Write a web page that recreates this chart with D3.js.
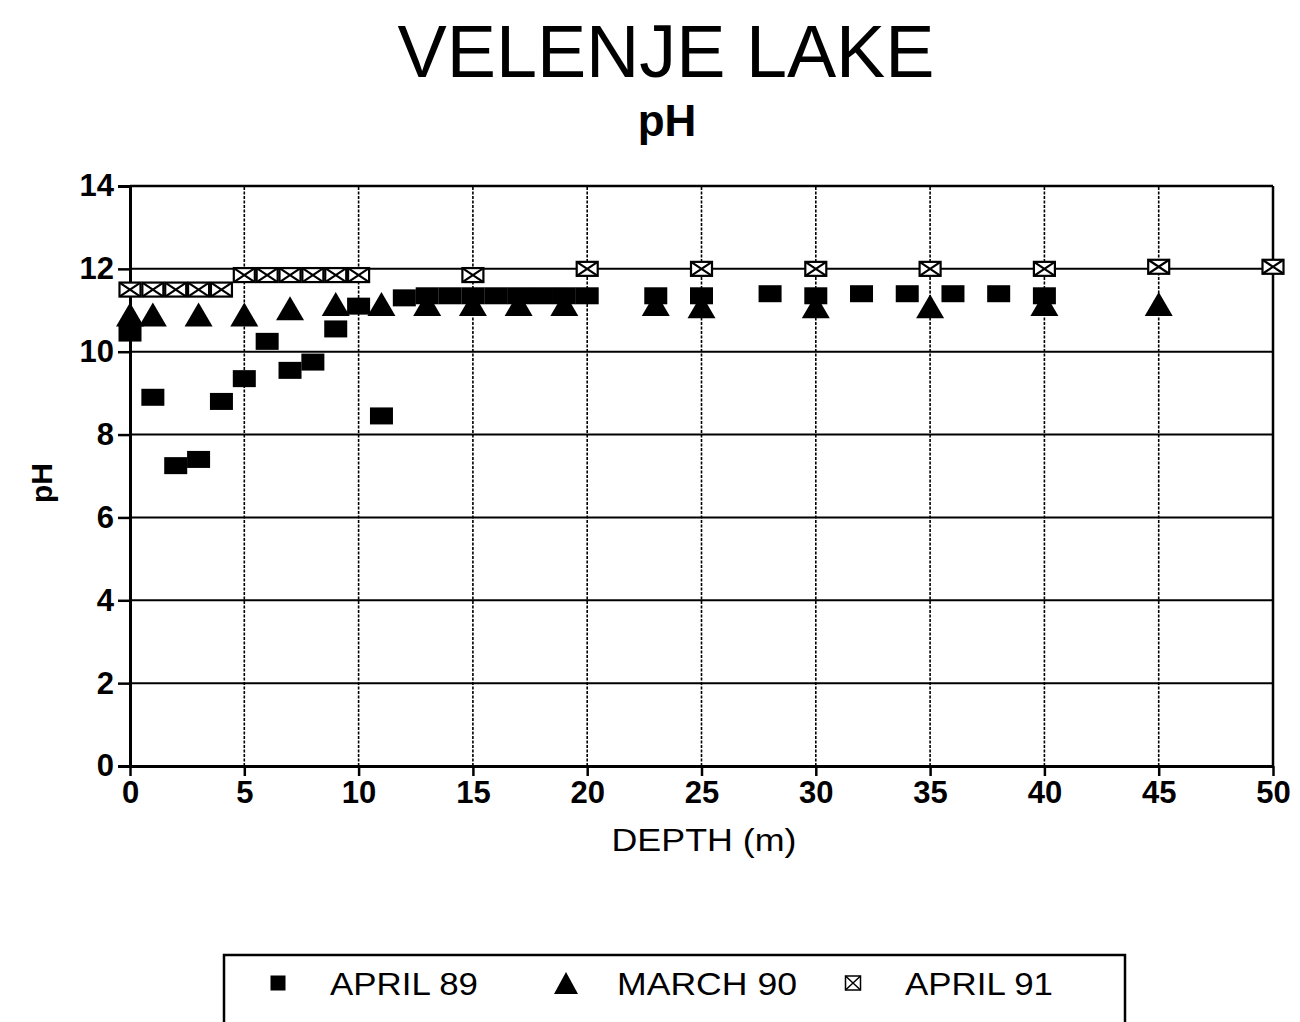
<!DOCTYPE html>
<meta charset="utf-8">
<style>
body {
  margin: 0;
  background: #fff;
  font-family: "Liberation Sans", Arial, Helvetica, sans-serif;
}
text { fill: #000; }
.grid line { stroke: #000; }
</style>
<body>
<script src="https://d3js.org/d3.v7.min.js"></script>
<script>

var width = 1300,
    height = 1022;

// depth (m) and pH per survey
var depth89 = [0, 1, 2, 3, 4, 5, 6, 7, 8, 9, 10, 11, 12, 13, 14, 15, 16, 17, 18, 19, 20, 23, 25, 28, 30, 32, 34, 36, 38, 40];
var ph89 = [10.45, 8.9, 7.25, 7.4, 8.8, 9.35, 10.25, 9.55, 9.75, 10.55, 11.1, 8.45, 11.3, 11.35, 11.35, 11.35, 11.35, 11.35, 11.35, 11.35, 11.35, 11.35, 11.35, 11.4, 11.35, 11.4, 11.4, 11.4, 11.4, 11.35];

var depth90 = [0, 1, 3, 5, 7, 9, 11, 13, 15, 17, 19, 23, 25, 30, 35, 40, 45];
var ph90 = [10.9, 10.9, 10.9, 10.9, 11.05, 11.15, 11.15, 11.15, 11.15, 11.15, 11.15, 11.15, 11.1, 11.1, 11.1, 11.15, 11.15];

var depth91 = [0, 1, 2, 3, 4, 5, 6, 7, 8, 9, 10, 15, 20, 25, 30, 35, 40, 45, 50];
var ph91 = [11.5, 11.5, 11.5, 11.5, 11.5, 11.85, 11.85, 11.85, 11.85, 11.85, 11.85, 11.85, 12.0, 12.0, 12.0, 12.0, 12.0, 12.05, 12.05];

var xTicks = d3.range(0, 51, 5);
var yTicks = d3.range(0, 15, 2);
var seriesNames = ["APRIL 89", "MARCH 90", "APRIL 91"];

var x = d3.scaleLinear().domain([0, 50]).range([130, 1273]);
var y = d3.scaleLinear().domain([0, 14]).range([766, 186]);

var svg = d3.select("body").append("svg")
    .attr("width", width)
    .attr("height", height);

// titles
svg.append("text")
    .attr("x", 666).attr("y", 77)
    .attr("text-anchor", "middle")
    .attr("font-size", 74)
    .attr("textLength", 537)
    .attr("lengthAdjust", "spacingAndGlyphs")
    .text("VELENJE LAKE");

svg.append("text")
    .attr("x", 667).attr("y", 136)
    .attr("text-anchor", "middle")
    .attr("font-size", 44)
    .attr("font-weight", "bold")
    .text("pH");

// grid
var grid = svg.append("g").attr("class", "grid");
grid.selectAll(".h").data(yTicks.filter(function(d) { return d > 0; }))
  .enter().append("line")
    .attr("x1", x(0)).attr("x2", x(50))
    .attr("y1", function(d) { return y(d); })
    .attr("y2", function(d) { return y(d); })
    .attr("stroke-width", function(d) { return d == 14 ? 2.5 : 2; });

grid.selectAll(".v").data(xTicks.filter(function(d) { return d > 0; }))
  .enter().append("line")
    .attr("y1", y(0)).attr("y2", y(14))
    .attr("x1", function(d) { return x(d); })
    .attr("x2", function(d) { return x(d); })
    .attr("stroke-width", function(d) { return d == 50 ? 2.5 : 1.6; })
    .attr("stroke-dasharray", function(d) { return d == 50 ? null : "3,1.5"; });

// axes
var yAxis = svg.append("g")
    .attr("transform", "translate(" + x(0) + ",0)")
    .call(d3.axisLeft(y).tickValues(yTicks).tickSize(12).tickPadding(4).tickFormat(d3.format("d")));
yAxis.select(".domain").attr("stroke-width", 3);
yAxis.selectAll(".tick line").attr("stroke-width", 2.5);
yAxis.selectAll("text")
    .attr("font-size", 31).attr("font-weight", "bold")
    .attr("font-family", "Liberation Sans, Arial, sans-serif");

var xAxis = svg.append("g")
    .attr("transform", "translate(0," + y(0) + ")")
    .call(d3.axisBottom(x).tickValues(xTicks).tickSize(10).tickPadding(5).tickSizeOuter(0));
xAxis.select(".domain").attr("stroke-width", 3);
xAxis.selectAll(".tick line").attr("stroke-width", 2.5);
xAxis.selectAll("text")
    .attr("font-size", 31).attr("font-weight", "bold")
    .attr("font-family", "Liberation Sans, Arial, sans-serif");

svg.append("text")
    .attr("x", 704).attr("y", 851)
    .attr("text-anchor", "middle")
    .attr("font-size", 32)
    .attr("textLength", 185)
    .attr("lengthAdjust", "spacingAndGlyphs")
    .text("DEPTH (m)");

svg.append("text")
    .attr("transform", "translate(52,483) rotate(-90)")
    .attr("text-anchor", "middle")
    .attr("font-size", 30)
    .attr("font-weight", "bold")
    .text("pH");

// markers
function square(g, w, h) {
  g.append("rect").attr("x", -w / 2).attr("y", -h / 2).attr("width", w).attr("height", h).attr("fill", "#000");
}
function triangle(g, w, h) {
  g.append("path").attr("d", "M0," + (-h / 2) + "L" + (w / 2) + "," + (h / 2) + "L" + (-w / 2) + "," + (h / 2) + "Z").attr("fill", "#000");
}
function crossBox(g, w, h, sw) {
  g.append("rect").attr("x", -w / 2).attr("y", -h / 2).attr("width", w).attr("height", h)
      .attr("fill", "#fff").attr("stroke", "#000").attr("stroke-width", sw);
  g.append("path").attr("d", "M" + (-w / 2) + "," + (-h / 2) + "L" + (w / 2) + "," + (h / 2) +
      "M" + (w / 2) + "," + (-h / 2) + "L" + (-w / 2) + "," + (h / 2))
      .attr("stroke", "#000").attr("stroke-width", sw);
}

svg.append("g").selectAll("g").data(d3.zip(depth91, ph91))
  .enter().append("g")
    .attr("transform", function(d) { return "translate(" + x(d[0]) + "," + y(d[1]) + ")"; })
    .each(function() { crossBox(d3.select(this), 21, 14, 2.2); });

svg.append("g").selectAll("g").data(d3.zip(depth89, ph89))
  .enter().append("g")
    .attr("transform", function(d) { return "translate(" + x(d[0]) + "," + y(d[1]) + ")"; })
    .each(function() { square(d3.select(this), 23, 17); });

svg.append("g").selectAll("g").data(d3.zip(depth90, ph90))
  .enter().append("g")
    .attr("transform", function(d) { return "translate(" + x(d[0]) + "," + y(d[1]) + ")"; })
    .each(function() { triangle(d3.select(this), 28, 24); });

// legend
var legend = svg.append("g");
legend.append("rect")
    .attr("x", 224).attr("y", 955).attr("width", 901).attr("height", 120)
    .attr("fill", "none").attr("stroke", "#000").attr("stroke-width", 2.5);

var legendX = [278, 566, 853];
var legendTextX = [330, 617, 905];
var drawers = [
  function(g) { square(g, 15, 15); },
  function(g) { triangle(g, 24, 22); },
  function(g) { crossBox(g, 15, 14, 1.5); }
];
seriesNames.forEach(function(name, i) {
  var g = legend.append("g").attr("transform", "translate(" + legendX[i] + ",983)");
  drawers[i](g);
  legend.append("text")
      .attr("x", legendTextX[i]).attr("y", 995)
      .attr("font-size", 32)
      .attr("textLength", i == 1 ? 180 : 148)
      .attr("lengthAdjust", "spacingAndGlyphs")
      .text(name);
});

</script>
